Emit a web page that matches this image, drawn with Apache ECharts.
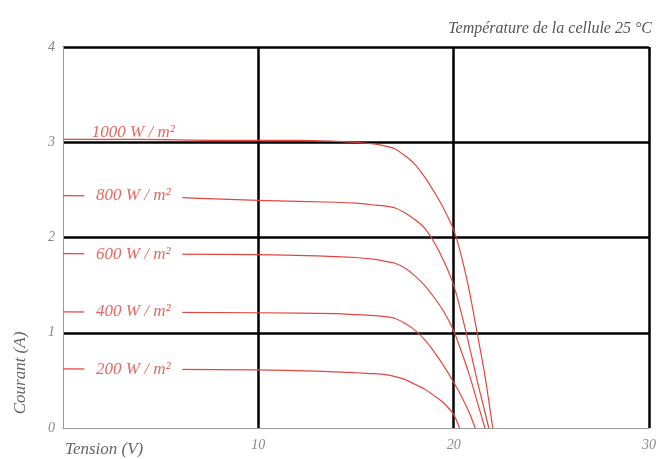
<!DOCTYPE html>
<html><head><meta charset="utf-8">
<script src="https://cdn.jsdelivr.net/npm/echarts@6/dist/echarts.min.js"></script>
<style>html,body{margin:0;padding:0;background:#fff}#c{width:659px;height:459px}</style>
</head><body><div id="c"></div>
<script>
const xTicks = [0, 10, 20, 30];
const yTicks = [0, 1, 2, 3, 4];

const seriesNames = ['1000 W / m²', '800 W / m²', '600 W / m²', '400 W / m²', '200 W / m²'];

const V1000 = [0, 4, 8, 12, 14, 15, 16, 16.5, 17, 17.5, 18, 18.5, 19, 19.5, 20, 20.4, 20.8, 21.2, 21.6, 22.0];
const I1000 = [3.03, 3.03, 3.02, 3.02, 3.01, 3.0, 2.98, 2.96, 2.93, 2.86, 2.77, 2.64, 2.48, 2.30, 2.08, 1.80, 1.44, 1.0, 0.55, 0];

const V800 = [0, 5, 7, 10, 14, 15, 16, 16.5, 17, 17.5, 18, 18.5, 19, 19.5, 20, 20.4, 20.8, 21.2, 21.5, 21.8];
const I800 = [2.44, 2.43, 2.41, 2.39, 2.37, 2.36, 2.34, 2.33, 2.31, 2.26, 2.19, 2.10, 1.95, 1.75, 1.5, 1.2, 0.86, 0.5, 0.25, 0];

const V600 = [0, 10, 14, 15, 16, 16.5, 17, 17.5, 18, 18.5, 19, 19.5, 20, 20.4, 20.8, 21.2, 21.6];
const I600 = [1.83, 1.82, 1.80, 1.79, 1.77, 1.75, 1.73, 1.68, 1.60, 1.50, 1.37, 1.22, 1.02, 0.80, 0.56, 0.28, 0];

const V400 = [0, 10, 14, 15, 16, 16.5, 17, 17.5, 18, 18.5, 19, 19.5, 20, 20.4, 20.8, 21.1];
const I400 = [1.22, 1.21, 1.20, 1.19, 1.18, 1.17, 1.15, 1.10, 1.03, 0.93, 0.80, 0.65, 0.48, 0.33, 0.16, 0];

const V200 = [0, 10, 14, 15, 16, 16.5, 17, 17.5, 18, 18.5, 19, 19.5, 20, 20.3];
const I200 = [0.62, 0.61, 0.59, 0.58, 0.57, 0.56, 0.54, 0.51, 0.46, 0.41, 0.34, 0.26, 0.14, 0];

// label anchor (voltage, current) for each curve
const labelV = [3.6, 3.6, 3.6, 3.6, 3.6];
const labelI = [3.1, 2.44, 1.82, 1.22, 0.61];

const curvesV = [V1000, V800, V600, V400, V200];
const curvesI = [I1000, I800, I600, I400, I200];

const serif = '"Liberation Serif", "DejaVu Serif", serif';
const chart = echarts.init(document.getElementById('c'));

const series = seriesNames.map((name, k) => ({
  type: 'line',
  name: name,
  data: curvesV[k].map((v, j) => [v, curvesI[k][j]]),
  showSymbol: false,
  smooth: 0.3,
  lineStyle: { color: '#e2473f', width: 1.2 },
  z: 3,
  markPoint: {
    symbol: 'rect',
    symbolSize: 0,
    silent: true,
    data: [{ coord: [labelV[k], labelI[k]], name: name }],
    label: {
      show: true,
      position: 'inside',
      formatter: name,
      color: '#e46a64',
      fontFamily: serif,
      fontStyle: 'italic',
      fontSize: 17,
      backgroundColor: k === 0 ? 'transparent' : '#fff',
      width: 86,
      align: 'center',
      padding: [0, 6]
    }
  }
}));

chart.setOption({
  animation: false,
  backgroundColor: '#fff',
  grid: { left: 63, right: 10, top: 47, bottom: 31, containLabel: false },
  xAxis: {
    type: 'value', min: xTicks[0], max: xTicks[xTicks.length - 1], interval: 10,
    axisLine: { show: true, lineStyle: { color: '#9a9a9a', width: 1 } },
    axisTick: { show: false },
    axisLabel: {
      margin: 10, color: '#8a8a8a', fontFamily: serif, fontStyle: 'italic', fontSize: 14,
      formatter: v => (v === 0 ? '' : String(v))
    },
    splitLine: { show: true, showMinLine: false, lineStyle: { color: '#000', width: 2.5 } }
  },
  yAxis: {
    type: 'value', min: yTicks[0], max: yTicks[yTicks.length - 1], interval: 1,
    axisLine: { show: true, lineStyle: { color: '#9a9a9a', width: 1 } },
    axisTick: { show: false },
    axisLabel: { margin: 8, color: '#8a8a8a', fontFamily: serif, fontStyle: 'italic', fontSize: 14 },
    splitLine: { show: true, showMinLine: false, lineStyle: { color: '#000', width: 2.5 } }
  },
  graphic: [
    { type: 'text', right: 7, top: 21,
      style: { text: 'Température de la cellule 25 °C', fill: '#555', font: 'italic 16px ' + serif } },
    { type: 'text', left: 65, top: 441,
      style: { text: 'Tension (V)', fill: '#666', font: 'italic 17px ' + serif } },
    { type: 'text', x: 21, y: 373, rotation: Math.PI / 2,
      style: { text: 'Courant (A)', fill: '#666', font: 'italic 17px ' + serif, textAlign: 'center', textVerticalAlign: 'middle' } }
  ],
  series: series
});
</script></body></html>
